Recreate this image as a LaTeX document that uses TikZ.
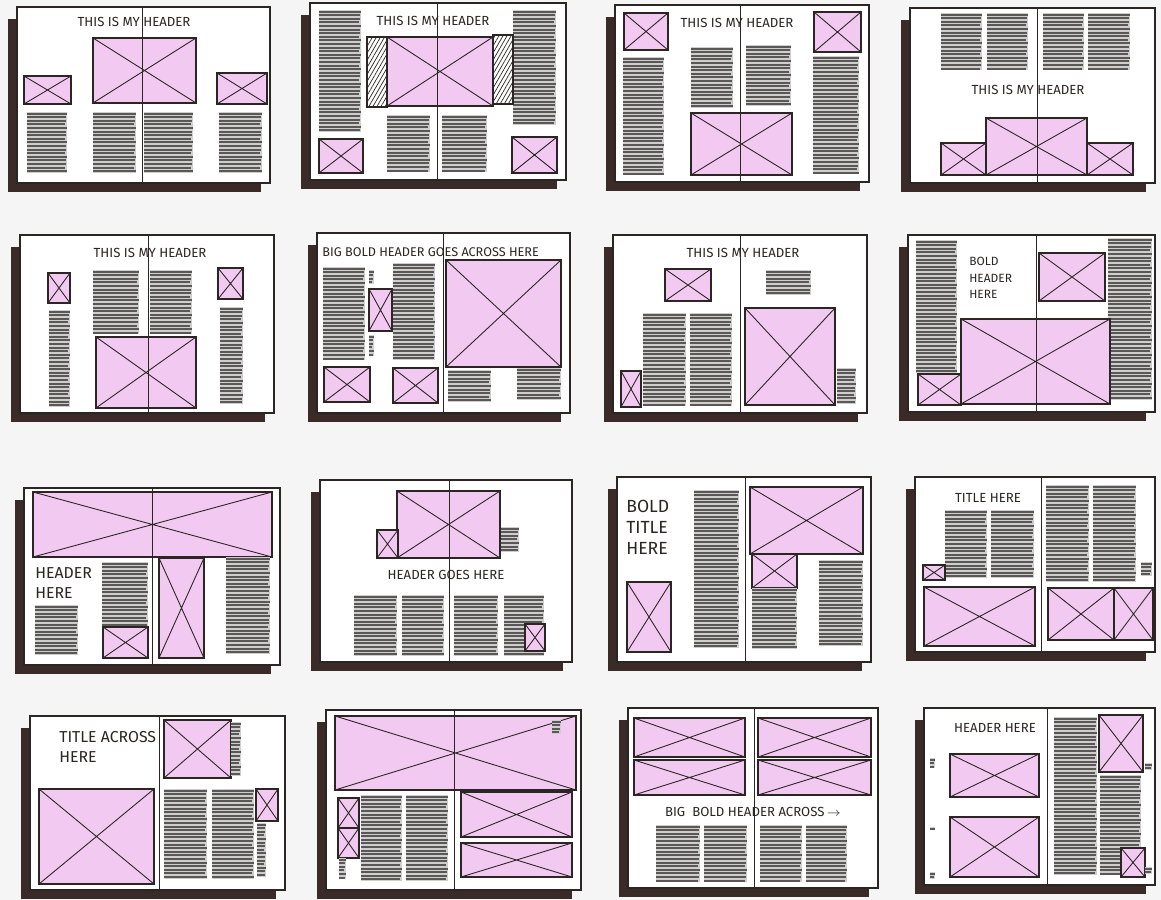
\documentclass[tikz,border=0pt]{standalone}
\usepackage{fontspec}
\newfontfamily\hand{Fira Sans}
\usetikzlibrary{patterns.meta}

\definecolor{ink}{HTML}{2B2523}
\definecolor{shade}{HTML}{3A2B29}
\definecolor{marker}{HTML}{F2C9F1}
\definecolor{leadlight}{HTML}{CFCDCD}
\definecolor{leaddark}{HTML}{5A5757}
\definecolor{paper}{HTML}{F6F5F5}

\tikzset{
  page/.style={draw=ink,line width=0.8pt,fill=white},
  shadow/.style={fill=shade},
  spine/.style={draw=ink,line width=0.5pt},
  imgbox/.style={draw=ink,line width=0.6pt,fill=marker},
  cross/.style={draw=ink,line width=0.5pt},
  txtfill/.style={fill=leadlight},
  txtline/.style={draw=leaddark,line width=1.15pt},
  hatch/.style={draw=ink,line width=0.6pt,pattern={Lines[angle=60,distance=2pt,line width=0.4pt]},pattern color=ink},
  header/.style={font=\hand\fontsize{7.5}{8.5}\selectfont,text=ink,inner sep=0pt,align=left},
  bighead/.style={header,font=\hand\fontsize{9}{11.5}\selectfont},
}

% spread: page with its shadow
\newcommand{\spread}[4]{%
  \fill[shadow] (#1-9,#2+12) rectangle (#3-9,#4+9);
  \draw[page] (#1,#2) rectangle (#3,#4);}
% picture box with a cross
\newcommand{\imgbox}[4]{%
  \filldraw[imgbox] (#1,#2) rectangle (#3,#4);
  \draw[cross] (#1,#2) -- (#3,#4) (#1,#4) -- (#3,#2);}
% column of text, one stroke per line
\newcommand{\txtblock}[4]{%
  \pgfmathtruncatemacro\nlines{max(0,(#4-#2-3)/3.6)}
  \fill[txtfill] (#1,#2) rectangle (#3,#2+3.2+3.6*\nlines);
  \foreach \k in {0,...,\nlines}
    \draw[txtline] (#1,#2+1.6+3.6*\k) -- ({#3-mod(\k*5,4)*0.7},#2+1.6+3.6*\k);}
\newcommand{\hatchbox}[4]{\filldraw[hatch] (#1,#2) rectangle (#3,#4);}

\begin{document}
\begin{tikzpicture}[x=0.02cm,y=-0.02cm]
\fill[paper] (0,0) rectangle (1161,900);
\useasboundingbox (0,0) rectangle (1161,900);

% row 1
\spread{17}{7}{270}{183}
\node[header] (h1) at (134,22) {THIS IS MY HEADER};
\imgbox{93}{38}{196}{103}
\imgbox{24}{76}{71}{104}
\imgbox{217}{73}{267}{104}
\txtblock{27}{112}{67}{175}
\txtblock{93}{112}{136}{175}
\txtblock{144}{112}{193}{175}
\txtblock{219}{112}{262}{175}
\draw[spine] (142,7) -- (142,183);

\spread{310}{3}{566}{180}
\node[header] (h2) at (433,21) {THIS IS MY HEADER};
\txtblock{319}{10}{361}{132}
\txtblock{513}{10}{556}{127}
\hatchbox{367}{37}{387}{107}
\imgbox{387}{37}{493}{106}
\hatchbox{493}{35}{513}{104}
\imgbox{319}{139}{363}{173}
\txtblock{387}{115}{430}{173}
\txtblock{442}{115}{487}{173}
\imgbox{512}{137}{557}{173}
\draw[spine] (437,3) -- (437,180);

\spread{615}{5}{869}{182}
\imgbox{624}{13}{668}{50}
\imgbox{814}{12}{861}{52}
\node[header] (h3) at (737,23) {THIS IS MY HEADER};
\txtblock{623}{57}{664}{177}
\txtblock{813}{56}{859}{177}
\txtblock{691}{47}{733}{110}
\txtblock{746}{45}{791}{109}
\imgbox{691}{113}{792}{175}
\draw[spine] (740,5) -- (740,182);

\spread{910}{8}{1155}{183}
\txtblock{941}{13}{982}{73}
\txtblock{987}{13}{1028}{73}
\txtblock{1043}{13}{1084}{73}
\txtblock{1088}{13}{1130}{73}
\node[header] (h4) at (1028,90) {THIS IS MY HEADER};
\imgbox{986}{118}{1087}{175}
\imgbox{941}{143}{986}{175}
\imgbox{1087}{143}{1133}{175}
\draw[spine] (1037,8) -- (1037,183);

% row 2
\spread{20}{235}{274}{413}
\node[header] (h5) at (150,253) {THIS IS MY HEADER};
\imgbox{48}{273}{70}{303}
\imgbox{218}{268}{243}{299}
\txtblock{49}{310}{70}{408}
\txtblock{220}{307}{243}{405}
\txtblock{93}{270}{139}{335}
\txtblock{150}{270}{192}{335}
\imgbox{96}{337}{196}{408}
\draw[spine] (148,235) -- (148,413);

\spread{317}{233}{570}{413}
\node[header,font=\hand\fontsize{7.2}{8.5}\selectfont,anchor=west] (h6) at (322,252) {BIG BOLD HEADER GOES ACROSS HERE};
\txtblock{323}{267}{365}{363}
\txtblock{369}{270}{374}{285}
\txtblock{369}{335}{374}{357}
\imgbox{369}{289}{392}{331}
\txtblock{393}{263}{435}{362}
\imgbox{324}{367}{370}{402}
\imgbox{393}{368}{438}{403}
\imgbox{446}{260}{561}{367}
\txtblock{448}{370}{491}{402}
\txtblock{517}{368}{561}{400}
\draw[spine] (443,233) -- (443,413);

\spread{613}{235}{867}{413}
\node[header] (h7) at (743,253) {THIS IS MY HEADER};
\imgbox{665}{269}{711}{301}
\txtblock{766}{270}{811}{298}
\txtblock{643}{313}{686}{407}
\txtblock{690}{313}{732}{407}
\imgbox{621}{371}{641}{407}
\imgbox{745}{308}{835}{405}
\txtblock{837}{368}{856}{405}
\draw[spine] (740,235) -- (740,413);

\spread{908}{235}{1155}{412}
\txtblock{916}{240}{957}{373}
\node[header,font=\hand\fontsize{6.8}{9.4}\selectfont,anchor=west] (h8) at (969,278) {BOLD\\HEADER\\HERE};
\imgbox{1039}{253}{1105}{301}
\txtblock{1108}{238}{1152}{402}
\imgbox{961}{319}{1110}{404}
\imgbox{918}{374}{961}{405}
\draw[spine] (1036,235) -- (1036,412);

% row 3
\spread{24}{488}{280}{665}
\imgbox{33}{492}{272}{557}
\node[bighead,anchor=west] (h9) at (35,583) {HEADER\\HERE};
\txtblock{35}{605}{78}{658}
\txtblock{102}{562}{148}{627}
\imgbox{103}{627}{148}{658}
\imgbox{159}{558}{204}{658}
\txtblock{226}{557}{270}{657}
\draw[spine] (152,488) -- (152,665);

\spread{320}{480}{572}{662}
\imgbox{397}{491}{500}{558}
\imgbox{377}{530}{398}{558}
\txtblock{501}{527}{519}{553}
\node[header] (h10) at (446,575) {HEADER GOES HERE};
\txtblock{354}{595}{397}{657}
\txtblock{402}{595}{444}{657}
\txtblock{454}{595}{498}{657}
\txtblock{504}{595}{544}{657}
\imgbox{525}{624}{545}{651}
\draw[spine] (449,480) -- (449,662);

\spread{617}{477}{871}{662}
\node[bighead,font=\hand\fontsize{10}{12}\selectfont,anchor=west] (h11) at (626,527) {BOLD\\TITLE\\HERE};
\imgbox{627}{582}{671}{652}
\txtblock{694}{490}{739}{650}
\imgbox{750}{487}{863}{554}
\imgbox{752}{554}{797}{588}
\txtblock{752}{588}{797}{650}
\txtblock{819}{560}{863}{649}
\draw[spine] (745,477) -- (745,662);

\spread{915}{477}{1155}{652}
\node[header] (h12) at (988,498) {TITLE HERE};
\txtblock{945}{510}{987}{580}
\txtblock{991}{510}{1034}{580}
\imgbox{923}{565}{945}{580}
\txtblock{1046}{485}{1089}{582}
\txtblock{1093}{485}{1136}{582}
\txtblock{1141}{562}{1152}{578}
\imgbox{924}{587}{1035}{646}
\imgbox{1048}{588}{1114}{640}
\imgbox{1114}{588}{1153}{640}
\draw[spine] (1041,477) -- (1041,652);

% row 4
\spread{30}{716}{285}{890}
\node[bighead,anchor=west] (h13) at (59,747) {TITLE ACROSS\\HERE};
\imgbox{164}{720}{231}{778}
\txtblock{231}{722}{241}{777}
\imgbox{39}{789}{154}{884}
\txtblock{164}{789}{207}{882}
\txtblock{212}{789}{254}{882}
\imgbox{256}{789}{278}{821}
\txtblock{257}{823}{266}{880}
\draw[spine] (159,716) -- (159,890);

\spread{326}{710}{581}{890}
\imgbox{335}{716}{576}{790}
\txtblock{552}{720}{561}{737}
\imgbox{338}{798}{359}{828}
\imgbox{338}{828}{359}{858}
\txtblock{339}{858}{346}{882}
\txtblock{361}{795}{402}{882}
\txtblock{406}{795}{448}{882}
\imgbox{461}{792}{572}{837}
\imgbox{461}{843}{572}{877}
\draw[spine] (454,710) -- (454,890);

\spread{628}{708}{878}{888}
\imgbox{634}{718}{745}{757}
\imgbox{758}{718}{871}{757}
\imgbox{634}{760}{745}{795}
\imgbox{758}{760}{871}{795}
\node[header] (h15) at (753,812) {BIG\ \ BOLD HEADER ACROSS$\,\rightarrow$};
\txtblock{656}{825}{700}{883}
\txtblock{704}{825}{747}{883}
\txtblock{760}{825}{802}{883}
\txtblock{806}{825}{847}{883}
\draw[spine] (754,708) -- (754,888);

\spread{924}{708}{1155}{885}
\node[header] (h16) at (995,728) {HEADER HERE};
\imgbox{950}{754}{1039}{797}
\imgbox{950}{817}{1039}{877}
\txtblock{930}{758}{935}{770}
\txtblock{930}{827}{935}{832}
\txtblock{930}{872}{935}{880}
\txtblock{1054}{717}{1097}{877}
\imgbox{1099}{715}{1143}{772}
\txtblock{1145}{763}{1152}{770}
\txtblock{1100}{775}{1141}{877}
\imgbox{1121}{848}{1145}{877}
\txtblock{1145}{867}{1152}{875}
\draw[spine] (1047,708) -- (1047,885);
\end{tikzpicture}
\end{document}
